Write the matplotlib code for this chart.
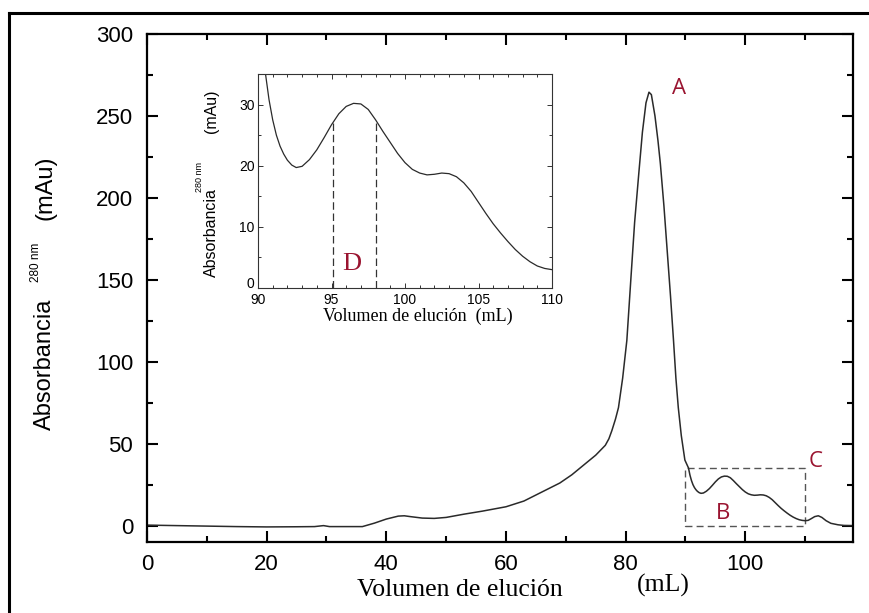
import matplotlib
matplotlib.use("Agg")
import matplotlib.pyplot as plt
from matplotlib.ticker import MultipleLocator
from matplotlib.patches import Rectangle
from matplotlib.lines import Line2D
import matplotlib.transforms as mtransforms

# ---------------- data ----------------
vol_main = [0, 5, 10, 15, 20, 25, 28, 29.5, 30.5, 33, 36, 38, 40, 42, 43, 44, 46, 48, 50, 53,
            56, 60, 63, 66, 69, 71, 73, 75, 76.6, 77.2, 77.7, 78.3, 78.8, 79.5, 80.2, 80.9,
            81.5, 82.2, 82.8, 83.4, 83.9, 84.3, 84.9, 85.4, 85.8, 86.4, 86.9, 87.5, 88.0,
            88.4, 88.8, 89.3, 89.9]
abs_main = [0.3, 0, -0.3, -0.6, -0.8, -0.7, -0.6, 0.0, -0.6, -0.6, -0.6, 1.5, 4, 5.8, 6, 5.5,
            4.6, 4.4, 5, 7.0, 8.8, 11.5, 15, 20.5, 26, 31, 37, 43, 49, 53, 58, 65, 72, 90, 113,
            152, 185, 215, 240, 258, 264.5, 263, 250, 235, 221, 195, 170, 140, 113, 90, 72, 55, 40]

vol_region = [90.5, 90.75, 91.0, 91.25, 91.5, 91.75, 92.0, 92.3, 92.6, 93.0, 93.5, 94.0, 94.5,
              95.0, 95.5, 96.0, 96.5, 97.0, 97.5, 98.0, 98.5, 99.0, 99.5, 100.0, 100.5, 101.0,
              101.5, 102.0, 102.5, 103.0, 103.5, 104.0, 104.5, 105.0, 105.5, 106.0, 106.5,
              107.0, 107.5, 108.0, 108.5, 109.0, 109.5, 110.0]
abs_region = [35.2, 30.8, 27.5, 25.0, 23.2, 21.9, 20.9, 20.1, 19.7, 19.9, 21.0, 22.6, 24.6,
              26.7, 28.5, 29.7, 30.2, 30.1, 29.2, 27.5, 25.6, 23.8, 22.0, 20.5, 19.4, 18.8,
              18.5, 18.6, 18.8, 18.7, 18.2, 17.2, 15.8, 14.0, 12.2, 10.5, 9.0, 7.6, 6.3, 5.2,
              4.3, 3.6, 3.2, 3.0]

vol_tail = [110.5, 111.0, 111.6, 112.2, 112.8, 113.5, 114.3, 115.5, 116.5, 118.0]
abs_tail = [3.2, 4.2, 5.5, 6.0, 5.0, 3.0, 1.4, 0.5, 0.1, 0.0]

vol_all = vol_main + vol_region + vol_tail
abs_all = abs_main + abs_region + abs_tail

main_xticks = [0, 20, 40, 60, 80, 100]
main_yticks = [0, 50, 100, 150, 200, 250, 300]
inset_xticks = [90, 95, 100, 105, 110]
inset_yticks = [0, 10, 20, 30]

box_x = [90, 110]
box_y = [0, 35]
d_lines = [95.1, 98.0]

peak_labels = ["A", "B", "C"]
peak_pos = [(89.0, 267), (96.3, 7.3), (111.8, 39)]
d_label_pos = (96.4, 3.9)

# ---------------- figure ----------------
W, H = 869, 613
fig = plt.figure(figsize=(W / 100, H / 100), dpi=100)

def fx(px):
    return px / W

def fy(py):
    return 1 - py / H

sans = ["Liberation Sans", "DejaVu Sans"]
serif = ["Liberation Serif", "DejaVu Serif"]
red = "#9a1430"
line_col = "#2a2a2a"

# outer border (left & top)
fig.add_artist(Line2D([fx(9), fx(9)], [fy(13), 0], transform=fig.transFigure, color="black", lw=2.2))
fig.add_artist(Line2D([fx(9), 1], [fy(13), fy(13)], transform=fig.transFigure, color="black", lw=2.2))

ax = fig.add_axes([fx(147), fy(542), (853 - 147) / W, (542 - 34) / H])
ax.plot(vol_all, abs_all, color=line_col, lw=1.1)
ax.set_xlim(0, 118)
ax.set_ylim(-10, 300)
ax.set_xticks(main_xticks)
ax.set_yticks(main_yticks)
ax.xaxis.set_minor_locator(MultipleLocator(10))
ax.yaxis.set_minor_locator(MultipleLocator(25))
ax.tick_params(which="both", direction="in", top=True, right=True, width=1.5, color="black")
ax.tick_params(which="major", length=8)
ax.tick_params(which="minor", length=4.5)
ax.tick_params(axis="y", which="major", pad=10, labelsize=16)
ax.tick_params(axis="x", which="major", pad=9, labelsize=16)
for lab in ax.get_xticklabels() + ax.get_yticklabels():
    lab.set_fontfamily(sans)
for s in ax.spines.values():
    s.set_linewidth(1.6)

ax.add_patch(Rectangle((box_x[0], box_y[0]), box_x[1] - box_x[0], box_y[1] - box_y[0],
                       fill=False, ls=(0, (5, 3)), lw=1.0, ec="#555555"))

for lab, (px, py) in zip(peak_labels, peak_pos):
    ax.text(px, py, lab, color=red, fontsize=16, family=["Open Sans", "DejaVu Sans"],
            ha="center", va="center")

# main axis labels
fig.text(fx(460), fy(590), "Volumen de elución", family=serif, fontsize=18.5, ha="center", va="center")
fig.text(fx(663), fy(585), "(mL)", family=serif, fontsize=18.5, ha="center", va="center")
fig.text(fx(45), fy(364), "Absorbancia", family=sans, fontsize=17, rotation=90, ha="center", va="center")
fig.text(fx(36), fy(262), "280 nm", family=sans, fontsize=8.5, rotation=90, ha="center", va="center")
fig.text(fx(45), fy(188), "(mAu)", family=sans, fontsize=17, rotation=90, ha="center", va="center")

# ---------------- inset ----------------
ins = fig.add_axes([fx(258), fy(288), (552 - 258) / W, (288 - 74) / H])
ins.plot(vol_all, abs_all, color=line_col, lw=0.9)
ins.set_xlim(90, 110)
ins.set_ylim(0, 35)
ins.set_xticks(inset_xticks)
ins.set_yticks(inset_yticks)
ins.xaxis.set_minor_locator(MultipleLocator(1))
ins.yaxis.set_minor_locator(MultipleLocator(5))
ins.tick_params(which="both", direction="in", top=True, right=True, width=0.7, color="#333333")
ins.tick_params(which="major", length=3.5)
ins.tick_params(which="minor", length=2)
ins.tick_params(axis="y", which="major", pad=2.5, labelsize=10)
ins.tick_params(axis="x", which="major", pad=3.5, labelsize=10)
for lab in ins.get_xticklabels() + ins.get_yticklabels():
    lab.set_fontfamily(sans)
for s in ins.spines.values():
    s.set_linewidth(0.8)
    s.set_color("#333333")

# lift the "0" y-label slightly so it sits above the "90" x-label, as in the reference
zero_lab = ins.get_yticklabels()[0]
zero_lab.set_transform(zero_lab.get_transform() +
                       mtransforms.ScaledTranslation(0, 4 / 72, fig.dpi_scale_trans))

for xv in d_lines:
    yv = None
    for i in range(len(vol_region) - 1):
        if vol_region[i] <= xv <= vol_region[i + 1]:
            t = (xv - vol_region[i]) / (vol_region[i + 1] - vol_region[i])
            yv = abs_region[i] + t * (abs_region[i + 1] - abs_region[i])
    ins.plot([xv, xv], [0, yv], color="#333333", lw=0.9, ls=(0, (6, 3)))

ins.text(d_label_pos[0], d_label_pos[1], "D", color=red, family=serif, fontsize=19,
         ha="center", va="center")

fig.text(fx(418), fy(316), "Volumen de elución  (mL)", family=serif, fontsize=13, ha="center", va="center")
fig.text(fx(211), fy(233), "Absorbancia", family=sans, fontsize=11.5, rotation=90, ha="center", va="center")
fig.text(fx(199), fy(177), "280 nm", family=sans, fontsize=6.5, rotation=90, ha="center", va="center")
fig.text(fx(211), fy(111), "(mAu)", family=sans, fontsize=11.5, rotation=90, ha="center", va="center")

fig.savefig("out.png", dpi=100)
